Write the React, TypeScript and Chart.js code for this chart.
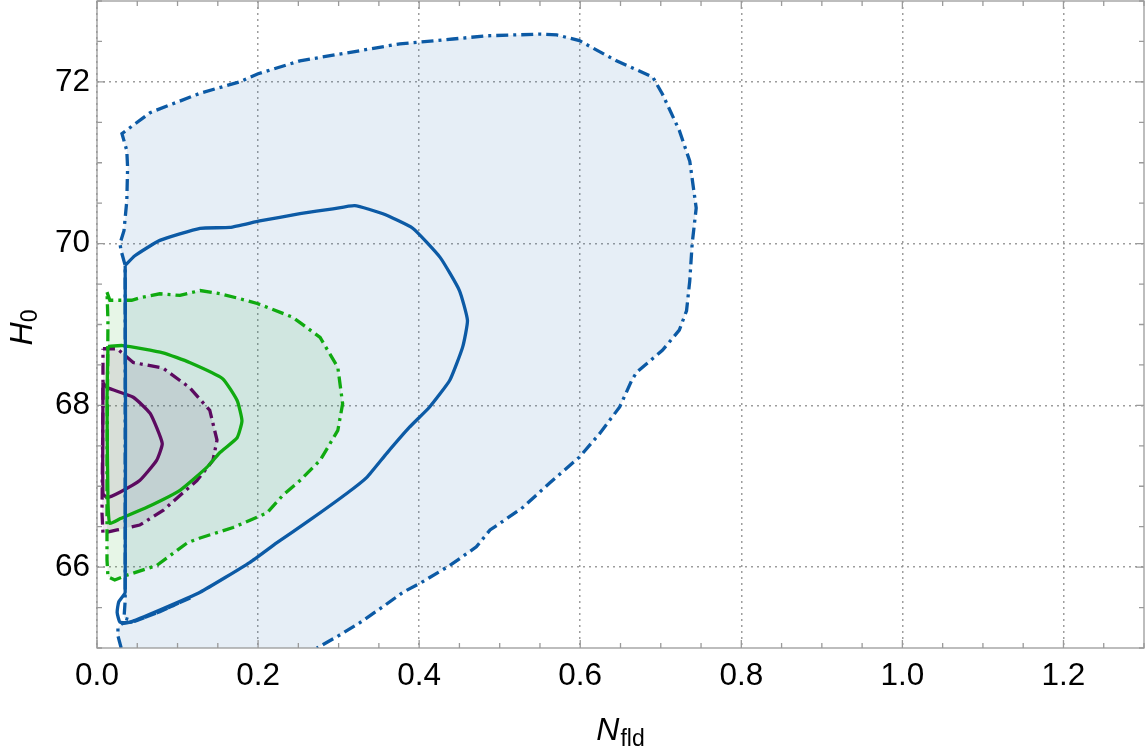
import React, { useEffect, useRef } from 'react';
import { Chart, registerables } from 'chart.js';

Chart.register(...registerables);

// Axis ticks
const xTickValues = [0, 0.2, 0.4, 0.6, 0.8, 1.0, 1.2];
const yTickValues = [66, 68, 70, 72];
const xRange = [0, 1.3];
const yRange = [65, 73];

// Blue: 95% contour (dash-dot, filled)
const blue95X = [0.030, 0.026, 0.026, 0.031, 0.047, 0.078, 0.116, 0.078, 0.047, 0.0335, 0.035, 0.035, 0.030, 0.0285, 0.0335, 0.037, 0.038, 0.037, 0.031, 0.066, 0.128, 0.177, 0.200, 0.252, 0.376, 0.442, 0.484, 0.550, 0.571, 0.599, 0.645, 0.690, 0.702, 0.723, 0.736, 0.744, 0.739, 0.736, 0.732, 0.723, 0.702, 0.670, 0.664, 0.649, 0.624, 0.599, 0.562, 0.529, 0.500, 0.488, 0.471, 0.438, 0.401, 0.380, 0.355, 0.326, 0.298, 0.273];
const blue95Y = [65.0, 65.15, 65.25, 65.30, 65.33, 65.45, 65.62, 65.45, 65.33, 65.37, 65.59, 69.73, 69.91, 70.0, 70.16, 70.53, 70.94, 71.15, 71.36, 71.62, 71.86, 72.0, 72.10, 72.26, 72.47, 72.53, 72.57, 72.59, 72.58, 72.51, 72.26, 72.06, 71.85, 71.40, 71.02, 70.44, 70.0, 69.54, 69.17, 68.93, 68.68, 68.41, 68.31, 67.98, 67.65, 67.36, 67.04, 66.74, 66.54, 66.46, 66.25, 66.02, 65.80, 65.69, 65.51, 65.31, 65.14, 65.0];

// Blue: 68% contour (solid)
const blue68X = [0.035, 0.047, 0.078, 0.128, 0.165, 0.202, 0.252, 0.293, 0.320, 0.355, 0.392, 0.426, 0.450, 0.460, 0.454, 0.438, 0.413, 0.388, 0.360, 0.335, 0.310, 0.264, 0.223, 0.190, 0.128, 0.078, 0.041, 0.0285, 0.025, 0.027, 0.035, 0.035];
const blue68Y = [69.73, 69.85, 70.04, 70.19, 70.20, 70.28, 70.37, 70.43, 70.47, 70.37, 70.19, 69.83, 69.42, 69.05, 68.72, 68.31, 67.98, 67.73, 67.41, 67.11, 66.91, 66.58, 66.30, 66.06, 65.69, 65.47, 65.32, 65.32, 65.44, 65.57, 65.69, 69.73];

// Green: 95% contour (dash-dot, filled)
const green95X = [0.0124, 0.016, 0.043, 0.053, 0.078, 0.103, 0.128, 0.153, 0.177, 0.199, 0.243, 0.277, 0.299, 0.305, 0.299, 0.277, 0.252, 0.231, 0.211, 0.169, 0.128, 0.112, 0.074, 0.037, 0.022, 0.0136, 0.0124, 0.0124, 0.0136, 0.0124];
const green95Y = [69.40, 69.30, 69.30, 69.33, 69.38, 69.36, 69.42, 69.38, 69.32, 69.26, 69.09, 68.84, 68.47, 68.02, 67.69, 67.32, 67.07, 66.89, 66.67, 66.49, 66.36, 66.30, 66.02, 65.90, 65.84, 65.88, 66.09, 67.23, 69.05, 69.40];

// Green: 68% contour (solid)
const green68X = [0.0136, 0.032, 0.082, 0.115, 0.156, 0.174, 0.180, 0.174, 0.153, 0.136, 0.103, 0.062, 0.029, 0.016, 0.0136, 0.0124, 0.0136];
const green68Y = [68.73, 68.74, 68.65, 68.53, 68.33, 68.06, 67.81, 67.60, 67.42, 67.23, 66.95, 66.74, 66.60, 66.54, 66.83, 68.06, 68.73];

// Purple: 95% contour (dash-dot, filled)
const purple95X = [0.0074, 0.025, 0.045, 0.082, 0.115, 0.140, 0.149, 0.144, 0.124, 0.082, 0.053, 0.025, 0.0074, 0.0062, 0.0074, 0.0074];
const purple95Y = [68.70, 68.70, 68.53, 68.46, 68.22, 67.94, 67.57, 67.32, 67.07, 66.70, 66.52, 66.46, 66.42, 66.67, 68.06, 68.70];

// Purple: 68% contour (solid)
const purple68X = [0.0074, 0.0124, 0.045, 0.066, 0.081, 0.074, 0.053, 0.029, 0.0124, 0.0074, 0.0074];
const purple68Y = [68.28, 68.22, 68.10, 67.90, 67.53, 67.32, 67.07, 66.93, 66.86, 66.91, 68.28];

const BLUE = 'rgb(12,90,165)';
const GREEN = 'rgb(16,170,16)';
const PURPLE = 'rgb(92,10,96)';
const DASHDOT = [12, 5, 3, 5];

const zip = (xs: number[], ys: number[]) => xs.map((x, i) => ({ x, y: ys[i] }));

const FONT = '"Liberation Sans", Arial, Helvetica, sans-serif';

const frameTicksPlugin = {
  id: 'frameTicks',
  afterDraw(chart: any) {
    const { ctx, chartArea: a, scales } = chart;
    const x = scales.x;
    const y = scales.y;
    ctx.save();
    ctx.strokeStyle = '#9a9a9a';
    ctx.lineWidth = 1.3;
    ctx.strokeRect(a.left, a.top, a.right - a.left, a.bottom - a.top);
    // x ticks (major + minor), inward on bottom and top
    const xMinorStep = 0.05;
    for (let k = 0; k * xMinorStep <= xRange[1] + 1e-9; k++) {
      const v = k * xMinorStep;
      const major = k % 4 === 0;
      const len = major ? 8 : 5;
      const px = x.getPixelForValue(v);
      ctx.beginPath();
      ctx.moveTo(px, a.bottom);
      ctx.lineTo(px, a.bottom - len);
      ctx.moveTo(px, a.top);
      ctx.lineTo(px, a.top + len);
      ctx.stroke();
    }
    const yMinorStep = 0.5;
    for (let k = 0; yRange[0] + k * yMinorStep <= yRange[1] + 1e-9; k++) {
      const v = yRange[0] + k * yMinorStep;
      const major = k % 4 === 2;
      const len = major ? 8 : 5;
      const py = y.getPixelForValue(v);
      ctx.beginPath();
      ctx.moveTo(a.left, py);
      ctx.lineTo(a.left + len, py);
      ctx.moveTo(a.right, py);
      ctx.lineTo(a.right - len, py);
      ctx.stroke();
    }
    // axis titles with subscripts
    ctx.fillStyle = '#000';
    ctx.textBaseline = 'alphabetic';
    ctx.textAlign = 'left';
    const mainFont = `italic 32px ${FONT}`;
    const subFont = `23px ${FONT}`;
    // x title: N_fld
    ctx.font = mainFont;
    const wN = ctx.measureText('N').width;
    ctx.font = subFont;
    const wSub = ctx.measureText('fld').width;
    const cx = (a.left + a.right) / 2;
    const startX = cx - (wN + wSub + 1) / 2;
    ctx.font = mainFont;
    ctx.fillText('N', startX, 740);
    ctx.font = subFont;
    ctx.fillText('fld', startX + wN + 1, 746);
    // y title: H_0 rotated
    ctx.save();
    const cy = (a.top + a.bottom) / 2 + 3;
    ctx.translate(32, cy);
    ctx.rotate(-Math.PI / 2);
    ctx.font = mainFont;
    const wH = ctx.measureText('H').width;
    ctx.font = subFont;
    const w0 = ctx.measureText('0').width;
    const sx = -(wH + w0) / 2;
    ctx.font = mainFont;
    ctx.fillText('H', sx, 0);
    ctx.font = subFont;
    ctx.fillText('0', sx + wH, 5);
    ctx.restore();
    ctx.restore();
  },
};

export default function App() {
  const canvasRef = useRef<HTMLCanvasElement | null>(null);

  useEffect(() => {
    document.body.style.margin = '0';
    const canvas = canvasRef.current;
    if (!canvas) return;
    const lineW = 3.3;
    const chart = new Chart(canvas, {
      type: 'scatter',
      data: {
        datasets: [
          {
            label: 'blue 68%',
            data: zip(blue68X, blue68Y),
            showLine: true,
            borderColor: BLUE,
            borderWidth: lineW,
            pointRadius: 0,
            fill: false,
            tension: 0.15,
          },
          {
            label: 'blue 95%',
            data: zip(blue95X, blue95Y),
            showLine: true,
            borderColor: BLUE,
            borderWidth: lineW,
            borderDash: DASHDOT,
            backgroundColor: 'rgba(12,90,165,0.10)',
            pointRadius: 0,
            fill: 'shape',
            tension: 0,
          },
          {
            label: 'green 68%',
            data: zip(green68X, green68Y),
            showLine: true,
            borderColor: GREEN,
            borderWidth: lineW,
            pointRadius: 0,
            fill: false,
            tension: 0.15,
          },
          {
            label: 'green 95%',
            data: zip(green95X, green95Y),
            showLine: true,
            borderColor: GREEN,
            borderWidth: lineW,
            borderDash: DASHDOT,
            backgroundColor: 'rgba(16,170,16,0.10)',
            pointRadius: 0,
            fill: 'shape',
            tension: 0,
          },
          {
            label: 'purple 68%',
            data: zip(purple68X, purple68Y),
            showLine: true,
            borderColor: PURPLE,
            borderWidth: lineW,
            pointRadius: 0,
            fill: false,
            tension: 0.15,
          },
          {
            label: 'purple 95%',
            data: zip(purple95X, purple95Y),
            showLine: true,
            borderColor: PURPLE,
            borderWidth: lineW,
            borderDash: DASHDOT,
            backgroundColor: 'rgba(92,10,96,0.10)',
            pointRadius: 0,
            fill: 'shape',
            tension: 0,
          },
        ],
      },
      options: {
        animation: false,
        responsive: false,
        maintainAspectRatio: false,
        layout: { padding: { left: 0, right: 2, top: 1, bottom: 0 } },
        plugins: {
          legend: { display: false },
          tooltip: { enabled: false },
          filler: { drawTime: 'beforeDatasetsDraw' },
        },
        scales: {
          x: {
            type: 'linear',
            min: xRange[0],
            max: xRange[1],
            afterBuildTicks: (scale: any) => {
              scale.ticks = xTickValues.map((v) => ({ value: v }));
            },
            afterFit: (scale: any) => {
              scale.height = 102;
              scale.paddingLeft = 0;
              scale.paddingRight = 0;
            },
            ticks: {
              color: '#000',
              font: { family: FONT, size: 31.5 },
              padding: 9,
              maxRotation: 0,
              autoSkip: false,
              callback: (v: any) => Number(v).toFixed(1),
            },
            grid: {
              color: 'rgba(140,140,140,0.85)',
              lineWidth: 1.5,
              drawTicks: false,
            },
            border: { display: false, dash: [2, 4] },
          },
          y: {
            type: 'linear',
            min: yRange[0],
            max: yRange[1],
            afterBuildTicks: (scale: any) => {
              scale.ticks = yTickValues.map((v) => ({ value: v }));
            },
            afterFit: (scale: any) => {
              scale.width = 97;
              scale.paddingTop = 0;
              scale.paddingBottom = 0;
            },
            ticks: {
              color: '#000',
              font: { family: FONT, size: 31.5 },
              padding: 7,
              autoSkip: false,
              callback: (v: any) => String(v),
            },
            grid: {
              color: 'rgba(140,140,140,0.85)',
              lineWidth: 1.5,
              drawTicks: false,
            },
            border: { display: false, dash: [2, 4] },
          },
        },
      },
      plugins: [frameTicksPlugin],
    });
    return () => chart.destroy();
  }, []);

  return (
    <div style={{ position: 'absolute', left: 0, top: 0, width: 1146, height: 750 }}>
      <canvas ref={canvasRef} width={1146} height={750} style={{ width: 1146, height: 750 }} />
    </div>
  );
}
